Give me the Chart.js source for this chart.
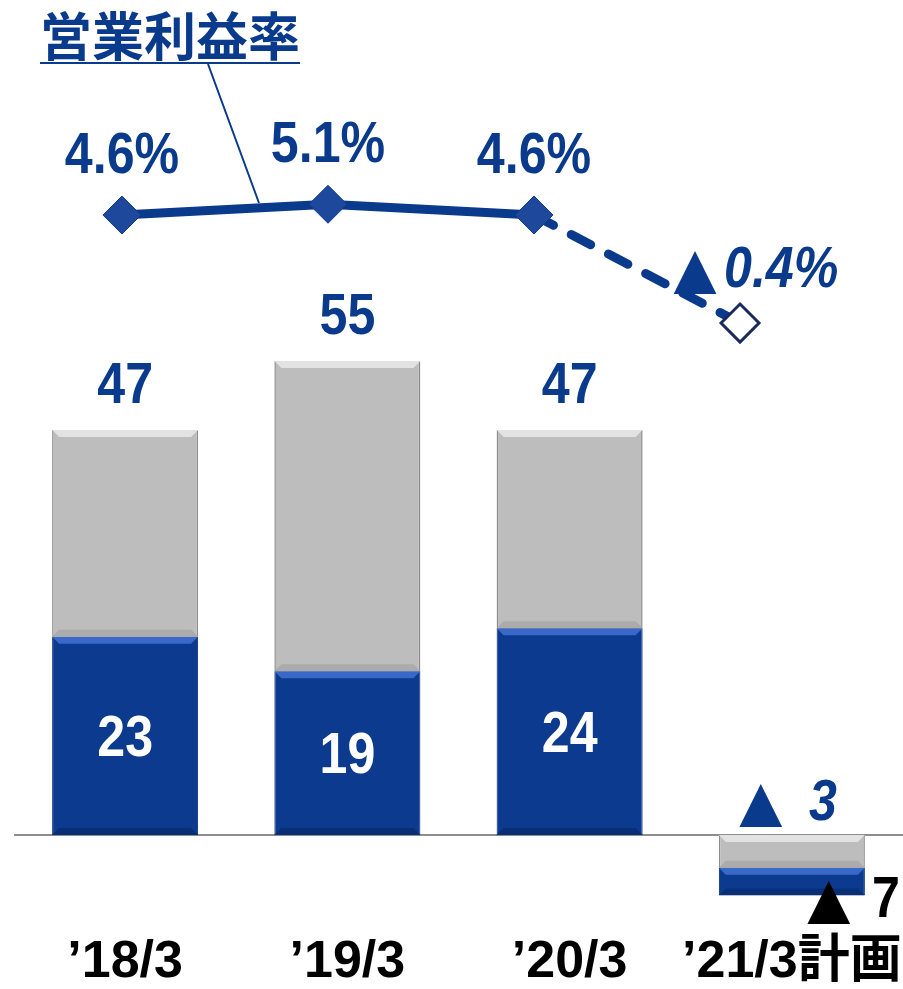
<!DOCTYPE html>
<html>
<head>
<meta charset="utf-8">
<script src="https://cdn.jsdelivr.net/npm/chart.js@4"></script>
<style>
  html, body { margin: 0; padding: 0; background: #fff; overflow: hidden; }
  /* 線のマーカー分の余白(22px)を打ち消すため、少し広げて左へずらす */
  #wrap { width: 933px; height: 989px; position: relative; margin-left: -8px; }
</style>
</head>
<body>
<div id="wrap"><canvas id="chart"></canvas></div>
<script>
// データ
const categories = ["’18/3", "’19/3", "’20/3", "’21/3計画"];
const blueVals = [23, 19, 24, -3.2];
const grayVals = [24, 36, 23, -3.8];
const topLabels = ["47", "55", "47", "3"];
const innerLabels = ["23", "19", "24", "7"];
const margins = [4.6, 5.1, 4.6, -0.4];

const BLUE = "#0B3A8E";
const TEXT_BLUE = "#0A3A8C";
const NUM_FONT = '"Liberation Sans", Arial, sans-serif';
const TRI_FONT = '"DejaVu Sans", sans-serif';

// 浮動バー（青は下、灰色は上。マイナスの時は灰色が0側）
const blueData = blueVals.map((b, i) => b >= 0 ? [0, b] : [grayVals[i], grayVals[i] + b]);
const grayData = grayVals.map((g, i) => g >= 0 ? [blueVals[i], blueVals[i] + g] : [0, g]);
const lineData = margins.map((v, i) => ({ x: i, y: v }));

const fmtPct = v => (v < 0 ? "▲" : "") + Math.abs(v).toFixed(1) + "%";

// 横に少し細めた文字
function narrowText(ctx, txt, x, y, align) {
  ctx.save();
  ctx.translate(x, y);
  ctx.scale(0.88, 1);
  ctx.textAlign = align || "center";
  ctx.fillText(txt, 0, 0);
  ctx.restore();
}

function bevel(ctx, el, light, dark) {
  const left = el.x - el.width / 2;
  const right = el.x + el.width / 2;
  const top = Math.min(el.y, el.base);
  const bottom = Math.max(el.y, el.base);
  const h = bottom - top;
  const d = Math.min(7, h / 4);
  ctx.save();
  ctx.fillStyle = light;
  ctx.beginPath();
  ctx.moveTo(left, top);
  ctx.lineTo(right, top);
  ctx.lineTo(right - d, top + d);
  ctx.lineTo(left + d, top + d);
  ctx.closePath();
  ctx.fill();
  ctx.fillStyle = dark;
  ctx.beginPath();
  ctx.moveTo(left, bottom);
  ctx.lineTo(right, bottom);
  ctx.lineTo(right - d, bottom - d);
  ctx.lineTo(left + d, bottom - d);
  ctx.closePath();
  ctx.fill();
  ctx.restore();
}

const labelPlugin = {
  id: "labels",
  beforeDatasetsDraw(chart) {
    const ctx = chart.ctx;
    const y0 = chart.scales.y.getPixelForValue(0);
    ctx.save();
    ctx.strokeStyle = "#8E8E8E";
    ctx.lineWidth = 2;
    ctx.beginPath();
    ctx.moveTo(chart.chartArea.left, y0);
    ctx.lineTo(chart.chartArea.right, y0);
    ctx.stroke();
    ctx.restore();
  },
  afterDraw(chart) {
    const ctx = chart.ctx;
    const xs = chart.scales.x;
    const blueMeta = chart.getDatasetMeta(0);
    const grayMeta = chart.getDatasetMeta(1);
    const lineMeta = chart.getDatasetMeta(2);
    const left = chart.chartArea.left - 14;
    ctx.save();
    ctx.textAlign = "center";
    ctx.textBaseline = "alphabetic";

    // 横軸ラベル
    ctx.fillStyle = "#000";
    ctx.font = 'bold 52px "Liberation Sans", "Noto Sans CJK JP", sans-serif';
    categories.forEach((c, i) => {
      ctx.fillText(xs.getLabelForValue(i), xs.getPixelForTick(i), xs.top + 67);
    });

    categories.forEach((c, i) => {
      const b = blueMeta.data[i];
      const g = grayMeta.data[i];
      if (blueVals[i] >= 0) {
        ctx.fillStyle = TEXT_BLUE;
        ctx.font = "bold 57px " + NUM_FONT;
        narrowText(ctx, topLabels[i], g.x, g.y - 27);
        ctx.fillStyle = "#fff";
        narrowText(ctx, innerLabels[i], b.x, (b.y + b.base) / 2 + 20);
      } else {
        const y0 = chart.scales.y.getPixelForValue(0);
        ctx.fillStyle = TEXT_BLUE;
        ctx.font = "56px " + TRI_FONT;
        ctx.fillText("▲", b.x - 31, y0 - 15);
        ctx.font = "italic bold 57px " + NUM_FONT;
        narrowText(ctx, topLabels[i], b.x + 31, y0 - 15);
        ctx.fillStyle = "#000";
        ctx.font = "56px " + TRI_FONT;
        ctx.fillText("▲", b.x + 37, b.y + 22);
        ctx.font = "bold 57px " + NUM_FONT;
        narrowText(ctx, innerLabels[i], b.x + 94, b.y + 22);
      }
    });

    margins.forEach((v, i) => {
      const p = lineMeta.data[i];
      ctx.fillStyle = TEXT_BLUE;
      if (v >= 0) {
        ctx.font = "bold 57px " + NUM_FONT;
        narrowText(ctx, fmtPct(v), p.x, p.y - 42);
      } else {
        ctx.font = "56px " + TRI_FONT;
        ctx.textAlign = "center";
        ctx.fillText("▲", p.x - 45, p.y - 36);
        ctx.font = "italic bold 57px " + NUM_FONT;
        narrowText(ctx, Math.abs(v).toFixed(1) + "%", p.x - 16, p.y - 36, "left");
      }
    });

    // タイトルと引き出し線
    ctx.fillStyle = TEXT_BLUE;
    ctx.textAlign = "left";
    ctx.font = 'bold 52px "Noto Sans CJK JP", sans-serif';
    ctx.fillText("営業利益率", left + 40, 56);
    ctx.strokeStyle = TEXT_BLUE;
    ctx.lineWidth = 2;
    ctx.beginPath();
    ctx.moveTo(left + 40, 63);
    ctx.lineTo(left + 300, 63);
    ctx.moveTo(left + 208, 64);
    ctx.lineTo(left + 259, 203);
    ctx.stroke();
    ctx.restore();
  }
};

// バーの立体感（線より先に描く）
const bevelPlugin = {
  id: "bevel",
  afterDatasetDraw(chart, args) {
    if (args.index > 1) return;
    const ctx = chart.ctx;
    const meta = chart.getDatasetMeta(args.index);
    meta.data.forEach(el => {
      if (args.index === 0) bevel(ctx, el, "#3A68C8", "#082E76");
      else bevel(ctx, el, "#E2E2E2", "#ABABAB");
    });
  }
};

new Chart(document.getElementById("chart"), {
  type: "bar",
  data: {
    labels: categories,
    datasets: [
      {
        label: "blue",
        data: blueData,
        backgroundColor: BLUE,
        borderColor: "#062A6E",
        borderWidth: 1,
        borderSkipped: false,
        grouped: false,
        order: 2
      },
      {
        label: "gray",
        data: grayData,
        backgroundColor: "#BDBDBD",
        borderColor: "#8C8C8C",
        borderWidth: 1.5,
        borderSkipped: false,
        grouped: false,
        order: 1
      },
      {
        type: "line",
        label: "営業利益率",
        data: lineData,
        xAxisID: "x2",
        yAxisID: "y2",
        borderColor: TEXT_BLUE,
        borderWidth: 9,
        borderCapStyle: "round",
        segment: {
          borderDash: ctx => ctx.p1DataIndex === 3 ? [22, 20] : undefined
        },
        pointStyle: "rectRot",
        pointRadius: 19,
        pointBackgroundColor: ["#1D489C", "#1D489C", "#1D489C", "#FFFFFF"],
        pointBorderColor: ["#0A3A8C", "#0A3A8C", "#0A3A8C", "#1B2A5E"],
        pointBorderWidth: [1, 1, 1, 3],
        order: 0
      }
    ]
  },
  options: {
    responsive: true,
    maintainAspectRatio: false,
    animation: false,
    layout: { padding: 0 },
    plugins: {
      legend: { display: false },
      tooltip: { enabled: false }
    },
    datasets: {
      bar: { barPercentage: 0.657, categoryPercentage: 1 }
    },
    scales: {
      x: {
        offset: true,
        grid: { display: false, drawTicks: false },
        border: { display: false },
        ticks: { display: false },
        afterFit: s => { s.height = 79; }
      },
      y: {
        display: false,
        min: -8.7,
        max: 94.35
      },
      x2: {
        type: "linear",
        display: false,
        offset: false,
        grid: { offset: false },
        min: -0.524,
        max: 3.791
      },
      y2: {
        display: false,
        min: -27.58,
        max: 13.54
      }
    }
  },
  plugins: [bevelPlugin, labelPlugin]
});
</script>
</body>
</html>
